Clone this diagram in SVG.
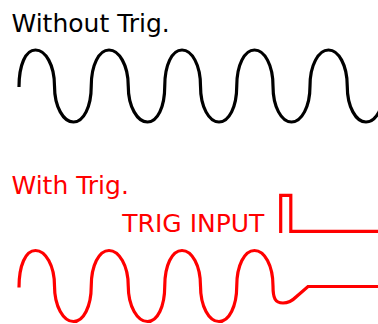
<svg xmlns="http://www.w3.org/2000/svg" width="378" height="324" viewBox="0 0 378 324">
<style>
text{font-family:"DejaVu Sans",sans-serif;font-size:25px}
.k{fill:#000}
.r{fill:#ff0000}
.w{fill:none;stroke-width:3.2;stroke-linejoin:miter;stroke-linecap:butt}
</style>
<rect width="378" height="324" fill="#fff"/>
<g id="without-trig">
<text class="k" x="11.5" y="31.7">Without Trig.</text>
<path class="w" stroke="#000" d="M19,87 C19,65 25.5,50 35.5,50 C45.5,50 54.5,65 54.5,86 C54.5,107 63.5,122 73.5,122 C83.5,122 91.25,107 91.25,86 C91.25,65 99,50 109,50 C119,50 128.25,65 128.25,86 C128.25,107 137.5,122 147.5,122 C157.5,122 164.75,107 164.75,86 C164.75,65 172,50 182,50 C192,50 200.5,65 200.5,86 C200.5,107 209,122 219,122 C229,122 236.75,107 236.75,86 C236.75,65 244.5,50 254.5,50 C264.5,50 273,65 273,86 C273,107 281.5,122 291.5,122 C301.5,122 310,107 310,86 C310,65 318.5,50 328.5,50 C338.5,50 347.25,65 347.25,86 C347.25,107 356,122 366,122 C376,122 384.5,107 384.5,86"/>
</g>
<g id="with-trig">
<text class="r" x="11.5" y="194.3">With Trig.</text>
<text class="r" x="122.3" y="231.7">TRIG INPUT</text>
<path class="w" stroke="#ff0000" d="M280.7,233 V195.3 H290.8 V231.3 H378"/>
<path class="w" stroke="#ff0000" d="M19,287.5 C19,265.5 25.5,250.5 35.5,250.5 C45.5,250.5 54.5,265.5 54.5,286 C54.5,306.5 63.5,321.5 73.5,321.5 C83.5,321.5 91.25,306.5 91.25,286 C91.25,265.5 99,250.5 109,250.5 C119,250.5 128.25,265.5 128.25,286 C128.25,306.5 137.5,321.5 147.5,321.5 C157.5,321.5 164.75,306.5 164.75,286 C164.75,265.5 172,250.5 182,250.5 C192,250.5 200.5,265.5 200.5,286 C200.5,306.5 209,321.5 219,321.5 C229,321.5 236.75,306.5 236.75,286 C236.75,265.5 244.5,250.5 254.5,250.5 C264.5,250.5 273,265.5 273,286 C273,298 275,303 283,303 C289,303 292,301 296,297 L308,286.5 H378"/>
</g>
</svg>
